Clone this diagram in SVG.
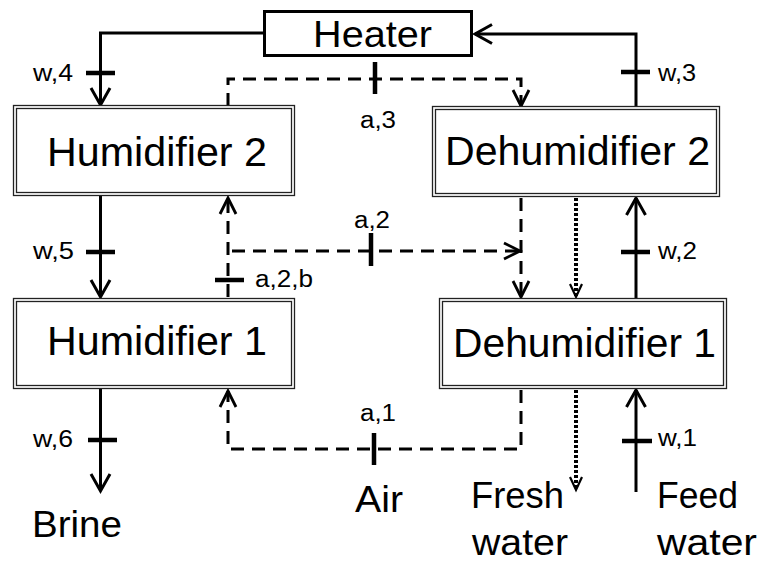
<svg xmlns="http://www.w3.org/2000/svg" width="758" height="564" viewBox="0 0 758 564">
<style>
.bg{fill:#fff}
.outer{fill:#fff;stroke:#222;stroke-width:1.3}
.inner{fill:none;stroke:#222;stroke-width:1.3}
.heat{fill:#fff;stroke:#000;stroke-width:3}
.big{font-family:"Liberation Sans",Arial,sans-serif;font-size:40px;fill:#000}
.mid{font-family:"Liberation Sans",Arial,sans-serif;font-size:37px;fill:#000}
.sm{font-family:"Liberation Sans",Arial,sans-serif;font-size:23px;fill:#000}
.solid{fill:none;stroke:#000;stroke-width:3}
.dash{fill:none;stroke:#000;stroke-width:3;stroke-dasharray:13 8}
.dot{fill:none;stroke:#000;stroke-width:4;stroke-dasharray:3 2}
.tick{fill:none;stroke:#000;stroke-width:4.5}
</style>
<defs>
<marker id="arr" markerUnits="userSpaceOnUse" orient="auto" viewBox="-20 -12 22 24" refX="0" refY="0" markerWidth="22" markerHeight="24" overflow="visible">
<path d="M-17,-9.5 L0,0 L-17,9.5" fill="none" stroke="#000" stroke-width="3"/>
</marker>
<marker id="arrd" markerUnits="userSpaceOnUse" orient="auto" viewBox="-20 -12 22 24" refX="0" refY="0" markerWidth="22" markerHeight="24" overflow="visible">
<path d="M-16,-8 L0,0 L-16,8" fill="none" stroke="#000" stroke-width="2.8"/>
</marker>
<marker id="arrs" markerUnits="userSpaceOnUse" orient="auto" viewBox="-20 -12 22 24" refX="0" refY="0" markerWidth="22" markerHeight="24" overflow="visible">
<path d="M-13,-6 L0,0 L-13,6" fill="none" stroke="#000" stroke-width="2.2"/>
</marker>
</defs>
<rect class="bg" x="0" y="0" width="758" height="564"/>

<g id="connectors">
<path class="solid" d="M263,33 H100.5 V105" marker-end="url(#arr)"/>
<path class="solid" d="M100.5,196 V297" marker-end="url(#arr)"/>
<path class="solid" d="M100.5,389 V491" marker-end="url(#arr)"/>
<path class="solid" d="M636,106 V34 H475" marker-end="url(#arr)"/>
<path class="solid" d="M636,298 V198" marker-end="url(#arr)"/>
<path class="solid" d="M636,492 V390" marker-end="url(#arr)"/>
<path class="dash" d="M228,106 V79 H521 V106" marker-end="url(#arrd)"/>
<path class="dash" d="M228,297 V198" marker-end="url(#arrd)"/>
<path class="dash" d="M232,251 H520" marker-end="url(#arrd)"/>
<path class="dash" d="M521,198 V297" marker-end="url(#arrd)"/>
<path class="dash" d="M521,390 V449 H228 V391" marker-end="url(#arrd)"/>
<path class="dot" d="M576,198 V297" marker-end="url(#arrs)"/>
<path class="dot" d="M576,390 V490" marker-end="url(#arrs)"/>
<path class="tick" d="M86,73 H115 M86,252 H115 M88,440 H117 M621,72 H650 M621,252 H650 M622,441 H652 M215,280 H244 M375,62 V94 M371,233 V266 M374,433 V465"/>
</g>

<g id="labels">
<text class="sm" x="33" y="81" textLength="40" lengthAdjust="spacingAndGlyphs">w,4</text>
<text class="sm" x="33" y="259" textLength="41" lengthAdjust="spacingAndGlyphs">w,5</text>
<text class="sm" x="33" y="447" textLength="40" lengthAdjust="spacingAndGlyphs">w,6</text>
<text class="sm" x="658" y="81" textLength="38" lengthAdjust="spacingAndGlyphs">w,3</text>
<text class="sm" x="658" y="259" textLength="39" lengthAdjust="spacingAndGlyphs">w,2</text>
<text class="sm" x="658" y="446" textLength="39" lengthAdjust="spacingAndGlyphs">w,1</text>
<text class="sm" x="360" y="128" textLength="36" lengthAdjust="spacingAndGlyphs">a,3</text>
<text class="sm" x="354" y="228" textLength="36" lengthAdjust="spacingAndGlyphs">a,2</text>
<text class="sm" x="255" y="287" textLength="58" lengthAdjust="spacingAndGlyphs">a,2,b</text>
<text class="sm" x="360" y="421" textLength="36" lengthAdjust="spacingAndGlyphs">a,1</text>
<text class="mid" x="32" y="537" textLength="90" lengthAdjust="spacingAndGlyphs">Brine</text>
<text class="mid" x="355" y="512" textLength="48" lengthAdjust="spacingAndGlyphs">Air</text>
<text class="mid" x="471" y="508" textLength="93" lengthAdjust="spacingAndGlyphs">Fresh</text>
<text class="mid" x="472" y="555" font-size="36" textLength="96" lengthAdjust="spacingAndGlyphs">water</text>
<text class="mid" x="657" y="508" textLength="81" lengthAdjust="spacingAndGlyphs">Feed</text>
<text class="mid" x="657" y="555" font-size="36" textLength="100" lengthAdjust="spacingAndGlyphs">water</text>
</g>

<g id="heater">
<rect class="heat" x="264.5" y="11.5" width="207" height="44"/>
<text class="mid" x="313" y="47" textLength="119" lengthAdjust="spacingAndGlyphs">Heater</text>
</g>

<g id="humidifier2">
<rect class="outer" x="13.5" y="105.5" width="281" height="90"/>
<rect class="inner" x="16.5" y="108.5" width="275" height="84"/>
<text class="big" x="47" y="166" textLength="220" lengthAdjust="spacingAndGlyphs">Humidifier 2</text>
</g>

<g id="dehumidifier2">
<rect class="outer" x="432.5" y="106.5" width="287" height="90"/>
<rect class="inner" x="435.5" y="109.5" width="281" height="84"/>
<text class="big" x="445" y="165" textLength="265" lengthAdjust="spacingAndGlyphs">Dehumidifier 2</text>
</g>

<g id="humidifier1">
<rect class="outer" x="13.5" y="298.5" width="281" height="90"/>
<rect class="inner" x="16.5" y="301.5" width="275" height="84"/>
<text class="big" x="47" y="355" textLength="220" lengthAdjust="spacingAndGlyphs">Humidifier 1</text>
</g>

<g id="dehumidifier1">
<rect class="outer" x="439.5" y="298.5" width="287" height="90"/>
<rect class="inner" x="442.5" y="301.5" width="281" height="84"/>
<text class="big" x="453" y="357" textLength="263" lengthAdjust="spacingAndGlyphs">Dehumidifier 1</text>
</g>
</svg>
